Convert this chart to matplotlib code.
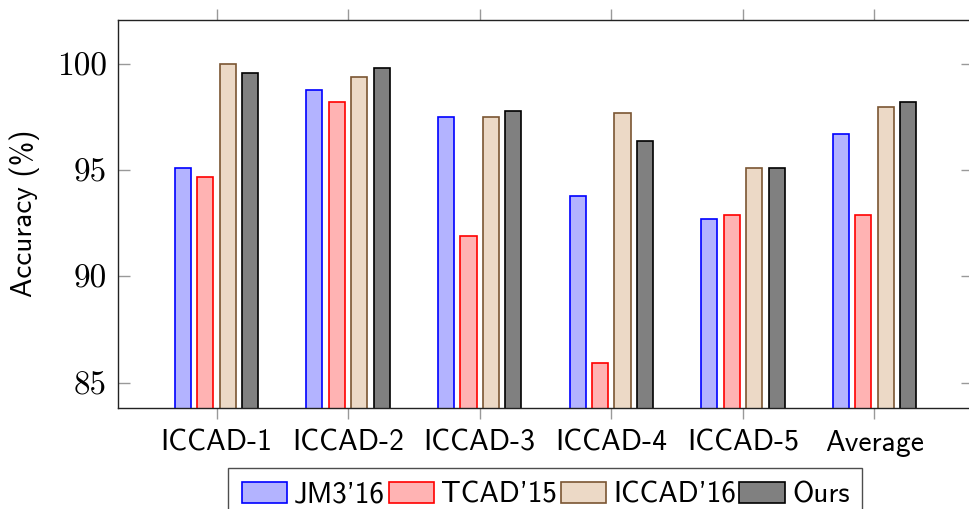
import matplotlib
matplotlib.use("Agg")
import matplotlib.pyplot as plt
import numpy as np

# benchmark names and accuracy values (%)
benchmarks = ["ICCAD-1", "ICCAD-2", "ICCAD-3", "ICCAD-4", "ICCAD-5", "Average"]
jm3_16 = [95.1, 98.8, 97.5, 93.8, 92.7, 96.7]
tcad_15 = [94.7, 98.2, 91.9, 85.9, 92.9, 92.9]
iccad_16 = [100.0, 99.4, 97.5, 97.7, 95.1, 98.0]
ours = [99.6, 99.8, 97.8, 96.4, 95.1, 98.2]
yticks = [85, 90, 95, 100]

series = [
    ("JM3'16", jm3_16, (0.7, 0.7, 1.0), "blue"),
    ("TCAD'15", tcad_15, (1.0, 0.7, 0.7), "red"),
    ("ICCAD'16", iccad_16, (0.925, 0.85, 0.775), "#7a5532"),
    ("Ours", ours, (0.5, 0.5, 0.5), "black"),
]

plt.rcParams["axes.unicode_minus"] = False

fig = plt.figure(figsize=(9.7, 5.09), dpi=100)
W, H = 970, 509
ax = fig.add_axes([118 / W, 1 - 408 / H, 855 / W, (408 - 19.5) / H])

x = np.arange(len(benchmarks))
bw = 0.122
step = 0.171
for i, (name, vals, fc, ec) in enumerate(series):
    ax.bar(x + (i - 1.5) * step, vals, width=bw, color=fc, edgecolor=ec,
           linewidth=1.2, label=name)

ax.set_xlim(-0.75, 5.75)
ax.set_ylim(83.8, 102.1)

ax.set_xticks(x)
ax.set_xticklabels(benchmarks, fontfamily="cmss10", fontsize=21.3)
ax.set_yticks(yticks)
ax.set_yticklabels([str(t) for t in yticks], fontfamily="cmr10", fontsize=24)

ax.tick_params(axis="x", direction="out", length=8, width=1, color="#999999",
               top=True, bottom=True, pad=7.5)
ax.tick_params(axis="y", direction="in", length=8.5, width=1, color="#999999",
               left=True, right=True, pad=8)

for s in ax.spines.values():
    s.set_linewidth(1.0)
    s.set_color("#222222")

ax.set_ylabel("Accuracy (%)", fontfamily="cmss10", fontsize=21, labelpad=12)

leg = ax.legend(loc="upper center", bbox_to_anchor=(0.5, -0.155), ncol=4,
                prop={"family": "cmss10", "size": 21}, frameon=True,
                fancybox=False, edgecolor="#222222", handlelength=1.55,
                handleheight=0.72, handletextpad=0.25, columnspacing=0.12,
                borderpad=0.45, borderaxespad=0)
leg.get_frame().set_linewidth(1.0)

fig.savefig("out.png", dpi=100)
